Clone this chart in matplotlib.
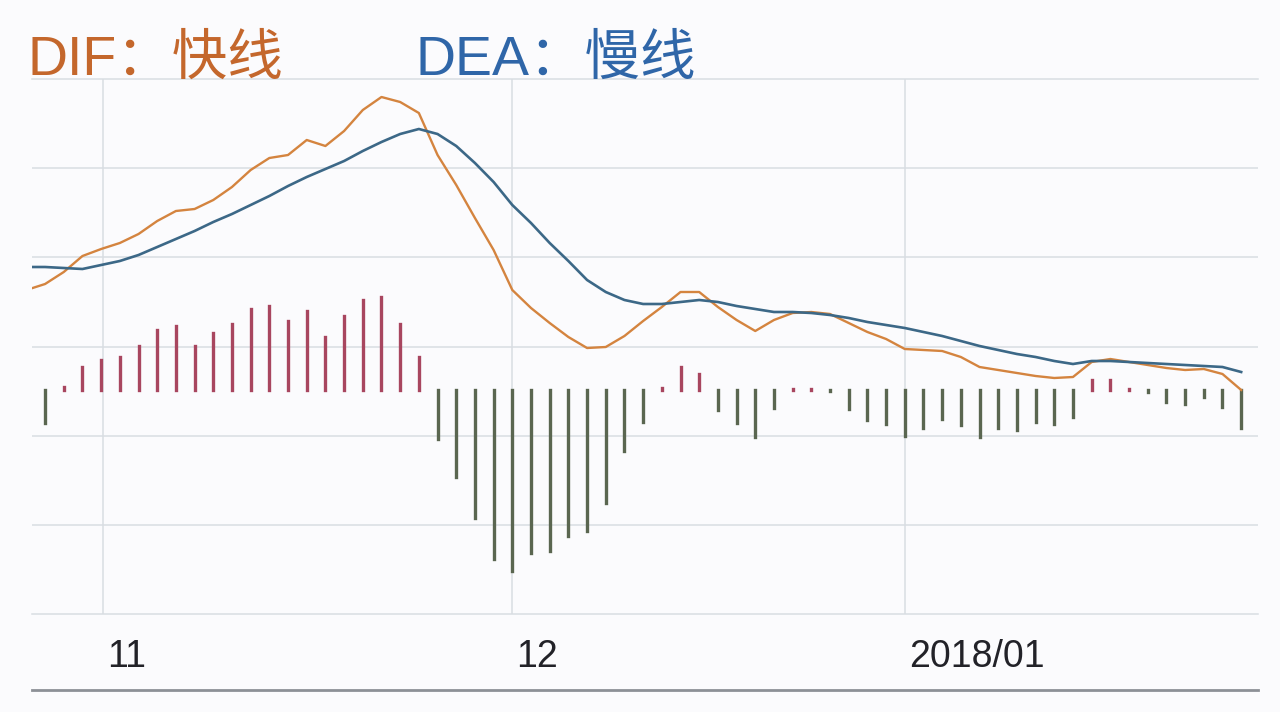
import numpy as np
import matplotlib
matplotlib.use("Agg")
import matplotlib.pyplot as plt
from matplotlib.lines import Line2D

# trading days: DIF/DEA start one day before the first histogram bar
line_days = np.arange(-1, 65)
bar_days = np.arange(0, 65)

dif = [1.00, 1.06, 1.18, 1.34, 1.41, 1.47, 1.56, 1.69, 1.79, 1.81,
       1.90, 2.03, 2.20, 2.32, 2.35, 2.50, 2.44, 2.59, 2.80, 2.93,
       2.88, 2.77, 2.35, 2.05, 1.72, 1.40, 1.00, 0.82, 0.67, 0.53,
       0.42, 0.43, 0.54, 0.69, 0.83, 0.98, 0.98, 0.83, 0.70, 0.59,
       0.70, 0.77, 0.78, 0.76, 0.67, 0.58, 0.51, 0.41, 0.40, 0.39,
       0.33, 0.23, 0.20, 0.17, 0.14, 0.12, 0.13, 0.28, 0.31, 0.28,
       0.25, 0.22, 0.20, 0.21, 0.16, 0.00]
dea = [1.23, 1.23, 1.22, 1.21, 1.25, 1.29, 1.35, 1.43, 1.51, 1.59,
       1.68, 1.76, 1.85, 1.94, 2.04, 2.13, 2.21, 2.29, 2.39, 2.48,
       2.56, 2.61, 2.56, 2.44, 2.27, 2.08, 1.85, 1.67, 1.47, 1.29,
       1.10, 0.98, 0.90, 0.86, 0.86, 0.88, 0.90, 0.88, 0.84, 0.81,
       0.78, 0.78, 0.77, 0.75, 0.72, 0.68, 0.65, 0.62, 0.58, 0.54,
       0.49, 0.44, 0.40, 0.36, 0.33, 0.29, 0.26, 0.29, 0.29, 0.28,
       0.27, 0.26, 0.25, 0.24, 0.23, 0.18]
macd = [-0.33, 0.03, 0.23, 0.30, 0.33, 0.44, 0.60, 0.64, 0.44, 0.57,
        0.66, 0.81, 0.84, 0.69, 0.79, 0.53, 0.74, 0.90, 0.93, 0.66,
        0.33, -0.49, -0.87, -1.28, -1.69, -1.81, -1.63, -1.61, -1.46, -1.41,
        -1.13, -0.61, -0.32, 0.02, 0.23, 0.16, -0.20, -0.33, -0.47, -0.18,
        0.01, 0.01, -0.01, -0.19, -0.30, -0.34, -0.46, -0.38, -0.29, -0.35,
        -0.47, -0.38, -0.40, -0.32, -0.34, -0.27, 0.10, 0.10, 0.01, -0.02,
        -0.12, -0.14, -0.07, -0.17, -0.38]

month_pos = [3.1, 25, 46]
month_labels = ["11", "12", "2018/01"]

fig = plt.figure(figsize=(12.8, 7.12), dpi=100)
fig.patch.set_facecolor("#fbfbfd")
ax = fig.add_axes([32 / 1280, 1 - 614 / 712, 1226 / 1280, 535 / 712])
ax.set_facecolor("#fbfbfd")

grid_col = "#d9dde2"
for y in [2.22, 1.33, 0.43, -0.46, -1.35]:
    ax.axhline(y, color=grid_col, lw=1.1, zorder=0)
for x in month_pos:
    ax.axvline(x, color=grid_col, lw=1.1, zorder=0)

macd = np.array(macd)
pos = macd >= 0
up = ax.vlines(bar_days[pos], 0, macd[pos], color="#a8465f", lw=2.4, zorder=2)
dn = ax.vlines(bar_days[~pos], 0, macd[~pos], color="#5a6650", lw=2.4, zorder=2)
up.set_capstyle("projecting")
dn.set_capstyle("projecting")

ax.plot(line_days, dif, color="#d4843f", lw=1.7, zorder=3,
        solid_joinstyle="round")
ax.plot(line_days, dea, color="#3c6887", lw=1.9, zorder=4,
        solid_joinstyle="round")

ax.set_xlim(-0.7, 64.9)
ax.set_ylim(-2.24, 3.11)
ax.set_xticks([])
ax.set_yticks([])
for side in ["left", "right"]:
    ax.spines[side].set_visible(False)
for side in ["top", "bottom"]:
    ax.spines[side].set_color(grid_col)
    ax.spines[side].set_linewidth(1.1)

num_font = ["Liberation Sans", "DejaVu Sans"]
for x, lab in zip(month_pos, month_labels):
    ax.annotate(lab, xy=(x, 0), xycoords=("data", "axes fraction"),
                xytext=(3, -31), textcoords="offset points",
                ha="left", va="center", fontsize=27, color="#222228",
                family=num_font)

title_font = ["Liberation Sans", "Noto Sans CJK SC", "DejaVu Sans"]
fig.text(27 / 1280, 1 - 75 / 712, "DIF：快线", fontsize=40, color="#c4672c",
         family=title_font, ha="left", va="baseline")
fig.text(416 / 1280, 1 - 75 / 712, "DEA：慢线", fontsize=40, color="#2f66a8",
         family=title_font, ha="left", va="baseline")

fig.add_artist(Line2D([32 / 1280, 1258 / 1280], [1 - 690 / 712] * 2,
                      transform=fig.transFigure, color="#8c9096", lw=2))

fig.savefig("out.png", dpi=100, facecolor=fig.get_facecolor())
